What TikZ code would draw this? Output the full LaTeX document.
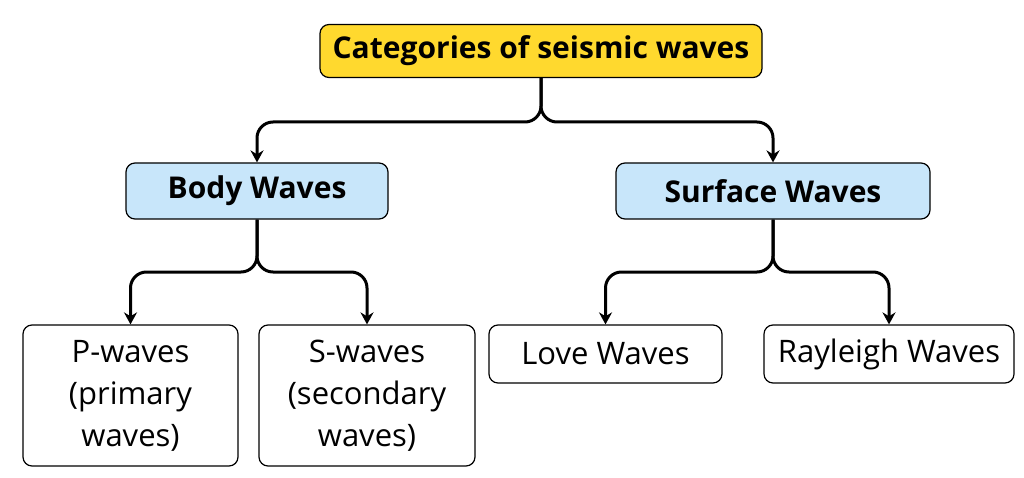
\documentclass[tikz,border=0pt]{standalone}
\usepackage{fontspec}
\setmainfont{Open Sans}
\usetikzlibrary{arrows.meta}
\definecolor{topy}{HTML}{FFD92E}
\definecolor{lblue}{HTML}{C8E6FA}
\begin{document}
\begin{tikzpicture}[x=1pt,y=-1pt,
 box/.style={draw=black,line width=1.2pt,rounded corners=9pt,align=center,inner sep=0pt,font=\fontsize{31}{42}\selectfont},
 hd/.style={font=\fontsize{30}{36}\bfseries\selectfont},
 conn/.style={line width=3pt,rounded corners=16pt,-{Stealth[length=12pt,width=13pt]}}]
\useasboundingbox (0,0) rectangle (1024,478);
\node[box,hd,fill=topy,minimum width=442pt,minimum height=53pt] (top) at (541,51) {Categories of seismic waves};
\node[box,hd,fill=lblue,minimum width=262pt,minimum height=56pt] (body) at (257,191) {Body Waves};
\node[box,hd,fill=lblue,minimum width=314pt,minimum height=56pt] (surf) at (773,191) {Surface Waves};
\node[box,minimum width=215pt,minimum height=141pt] (p) at (130.5,395.5) {P-waves\\(primary\\waves)};
\node[box,minimum width=216pt,minimum height=141pt] (s) at (367,395.5) {S-waves\\(secondary\\waves)};
\node[box,minimum width=233pt,minimum height=58pt] (love) at (605.5,354) {Love Waves};
\node[box,minimum width=250pt,minimum height=58pt] (ray) at (889,354) {Rayleigh Waves};
\coordinate (j1) at (541,122);
\coordinate (j2) at (257,272);
\coordinate (j3) at (773,272);
\draw[conn] (top.south) -- (j1) -| (body.north);
\draw[conn] (top.south) -- (j1) -| (surf.north);
\draw[conn] (body.south) -- (j2) -| (p.north);
\draw[conn] (body.south) -- (j2) -| (s.north);
\draw[conn] (surf.south) -- (j3) -| (love.north);
\draw[conn] (surf.south) -- (j3) -| (ray.north);
\end{tikzpicture}
\end{document}
